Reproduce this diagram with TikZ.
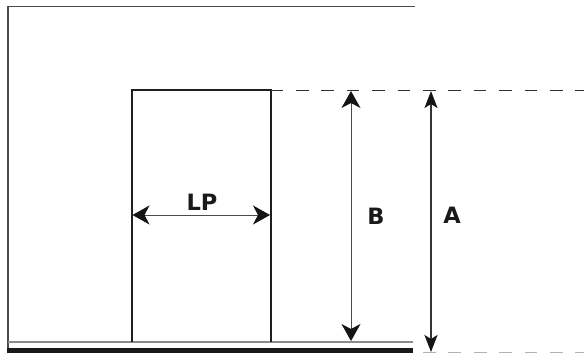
\documentclass[tikz,border=0pt]{standalone}
\usepackage{fontspec}
\setmainfont{DejaVu Sans}
\usetikzlibrary{arrows.meta}
\tikzset{
  wall/.style={draw=black!70,line width=1.2pt},
  doorline/.style={draw=black!88,line width=2pt},
  dim/.style={draw=black!70,line width=0.9pt,{Stealth[length=17pt,width=19pt,inset=5pt,color=black!92]}-{Stealth[length=17pt,width=19pt,inset=5pt,color=black!92]}},
  dimthick/.style={draw=black!80,line width=1.6pt,{Stealth[length=17pt,width=13pt,inset=4pt,color=black!92]}-{Stealth[length=17pt,width=13pt,inset=4pt,color=black!92]}},
  guide/.style={draw=black!80,line width=1pt,dash pattern=on 12.7pt off 12.7pt},
  lab/.style={font=\bfseries\fontsize{22.5pt}{24pt}\selectfont,text=black!90,inner sep=0pt}
}
\begin{document}
\begin{tikzpicture}[x=1pt,y=-1pt]
\useasboundingbox (0,0) rectangle (584,353);
\coordinate (tr) at (415,6.5);
\coordinate (tl) at (8,6.5);
\coordinate (bl) at (8,348);
\coordinate (fl) at (8,342);
\coordinate (fr) at (413,342);
\coordinate (dbl) at (131.5,342);
\coordinate (dtl) at (131.5,90);
\coordinate (dtr) at (270.5,90);
\coordinate (dbr) at (270.5,342);
\coordinate (gl) at (270.5,90.5);
\coordinate (gr) at (584,90.5);
\coordinate (g2l) at (423,352.5);
\coordinate (g2r) at (584,352.5);
\coordinate (bt) at (351,91);
\coordinate (bb) at (351,341);
\coordinate (at) at (431,91);
\coordinate (ab) at (431,352);
\coordinate (ll) at (132.5,215);
\coordinate (lr) at (270,215);
\draw[wall] (tr) -- (tl) -- (bl);
\draw[draw=black!45,line width=1.6pt] (fl) -- (fr);
\fill[black!90] (7,347.5) rectangle (413,353);
\draw[doorline] (dbl) -- (dtl) -- (dtr) -- (dbr);
\draw[guide] (gl) -- (gr);
\draw[guide,draw=black!30] (g2l) -- (g2r);
\draw[dim] (bt) -- (bb);
\draw[dimthick] (at) -- (ab);
\draw[dim] (ll) -- (lr);
\node[lab] (lp) at (202,202) {LP};
\node[lab] (b) at (376,216) {B};
\node[lab] (a) at (452,215) {A};
\end{tikzpicture}
\end{document}
